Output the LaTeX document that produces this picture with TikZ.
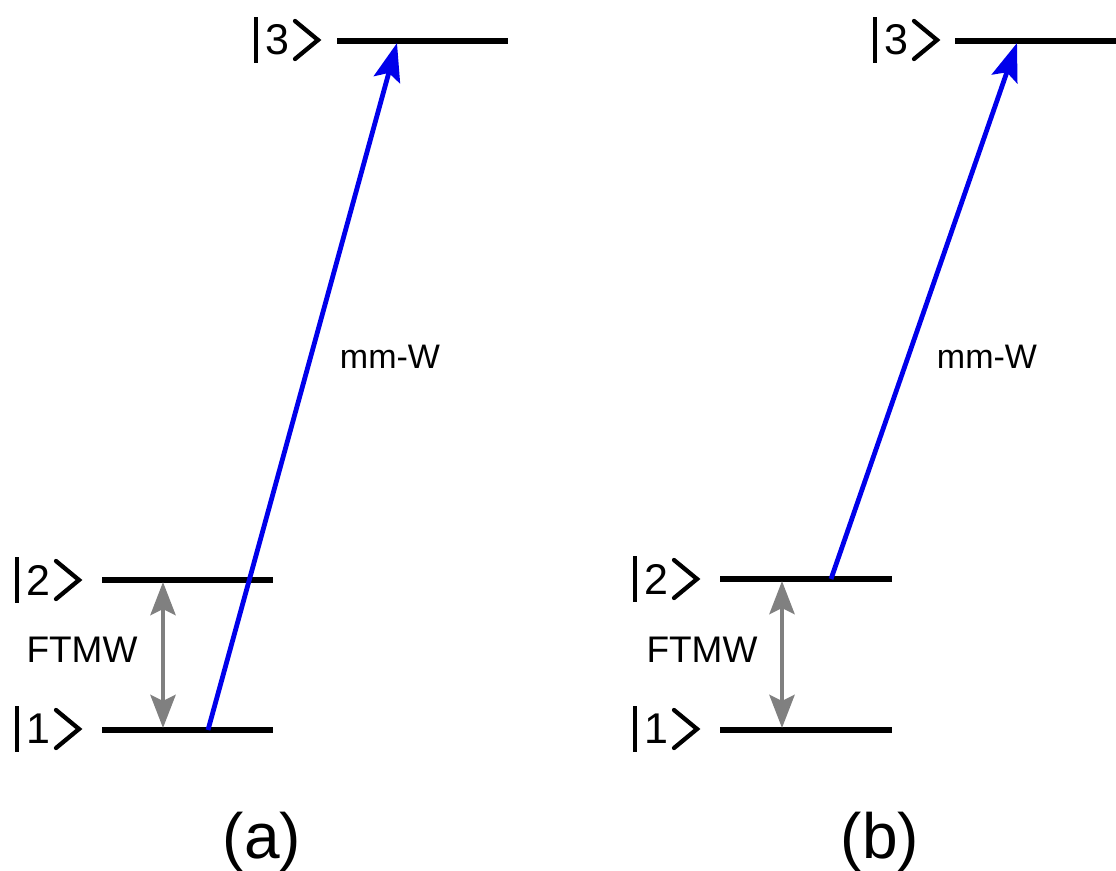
\documentclass[tikz,border=0pt]{standalone}
\usepackage{fontspec}
\setmainfont{Liberation Sans}
\usetikzlibrary{arrows.meta}
\tikzset{
  level/.style={line width=5.5pt, black},
  ketbar/.style={line width=4.5pt, black},
  ketchev/.style={line width=4.3pt, black, line cap=round, line join=miter},
  ketdigit/.style={font=\fontsize{43}{43}\selectfont, inner sep=0pt, anchor=center},
  lbl/.style={font=\fontsize{37}{37}\selectfont, inner sep=0pt},
  mmw/.style={font=\fontsize{34}{34}\selectfont, inner sep=0pt},
  panel/.style={font=\fontsize{64}{64}\selectfont, inner sep=0pt},
  pump/.style={line width=4.8pt, color={rgb,255:red,0;green,0;blue,235}, -{Stealth[length=38pt,width=27pt,inset=7pt]}},
  ftmw/.style={line width=4.8pt, color={rgb,255:red,128;green,128;blue,128}, {Stealth[length=33pt,width=25pt,inset=6pt]}-{Stealth[length=33pt,width=25pt,inset=6pt]}}
}
% \ketlabel{name}{digit}{bar x}{center y}
\newcommand{\ketlabel}[4]{%
  \draw[ketbar] (#3,#4-23) -- (#3,#4+23);
  \node[ketdigit] (#1) at (#3+21,#4) {#2};
  \draw[ketchev] (#3+39,#4-19) -- (#3+62,#4) -- (#3+39,#4+19);
}
\begin{document}
\begin{tikzpicture}[x=1pt,y=-1pt]
\useasboundingbox (0,0) rectangle (1116,870);

% ---------- panel (a) ----------
\coordinate (a3l) at (337,41);  \coordinate (a3r) at (508,41);
\coordinate (a2l) at (102,580); \coordinate (a2r) at (273,580);
\coordinate (a1l) at (102,730); \coordinate (a1r) at (273,730);
\draw[level] (a3l) -- (a3r);
\draw[level] (a2l) -- (a2r);
\draw[level] (a1l) -- (a1r);
\ketlabel{ka3}{3}{256}{40}
\ketlabel{ka2}{2}{17}{580}
\ketlabel{ka1}{1}{17}{729}
\coordinate (apumpS) at (208,730);
\coordinate (apumpE) at (397,43);
\draw[pump] (apumpS) -- (apumpE);
\coordinate (aftT) at (163,582);
\coordinate (aftB) at (163,728);
\draw[ftmw] (aftT) -- (aftB);
\node[lbl] (aftmw) at (82,650) {FTMW};
\node[mmw] (ammw) at (390,357) {mm-W};
\node[panel, anchor=base] (pa) at (262,858) {(a)};

% ---------- panel (b) ----------
\coordinate (b3l) at (955,41);  \coordinate (b3r) at (1116,41);
\coordinate (b2l) at (720,579); \coordinate (b2r) at (892,579);
\coordinate (b1l) at (720,730); \coordinate (b1r) at (892,730);
\draw[level] (b3l) -- (b3r);
\draw[level] (b2l) -- (b2r);
\draw[level] (b1l) -- (b1r);
\ketlabel{kb3}{3}{875}{40}
\ketlabel{kb2}{2}{635}{579}
\ketlabel{kb1}{1}{635}{729}
\coordinate (bpumpS) at (831,579);
\coordinate (bpumpE) at (1017,43);
\draw[pump] (bpumpS) -- (bpumpE);
\coordinate (bftT) at (782,581);
\coordinate (bftB) at (782,728);
\draw[ftmw] (bftT) -- (bftB);
\node[lbl] (bftmw) at (702,650) {FTMW};
\node[mmw] (bmmw) at (987,357) {mm-W};
\node[panel, anchor=base] (pb) at (880,858) {(b)};
\end{tikzpicture}
\end{document}
